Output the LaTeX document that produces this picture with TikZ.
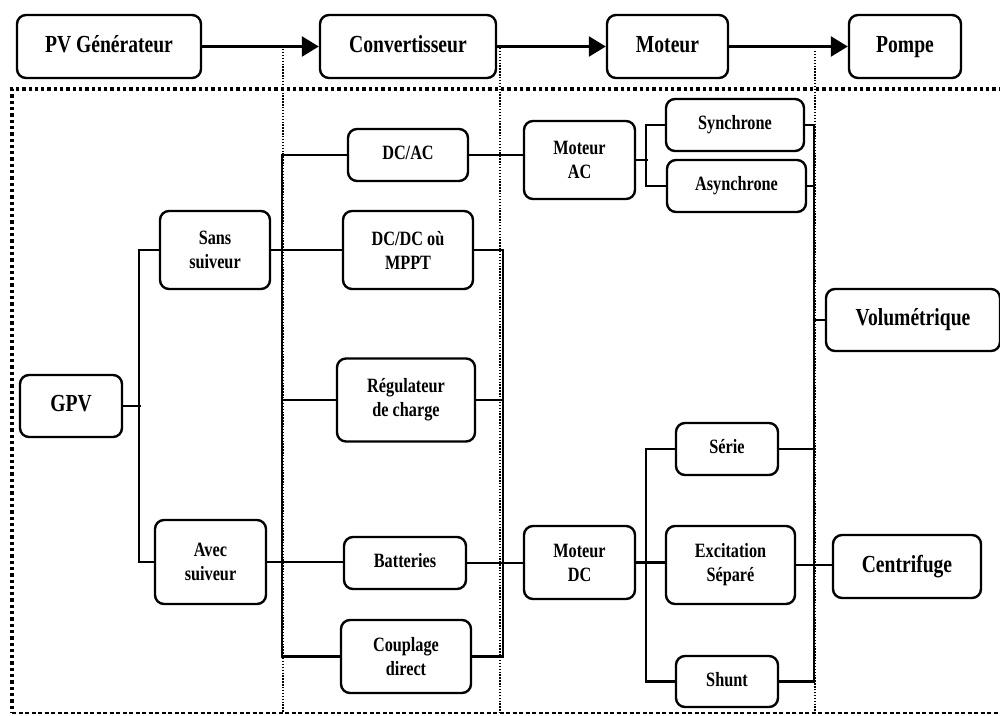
\documentclass[tikz,border=0pt]{standalone}
\usepackage{fontspec}
\setmainfont{Liberation Serif}[FakeStretch=0.8]
\usetikzlibrary{arrows.meta}
\begin{document}
\begin{tikzpicture}[x=1pt,y=-1pt,
  box/.style={draw, line width=2.4pt, rounded corners=9pt, align=center,
    font=\bfseries\fontsize{20.3}{24}\selectfont, inner sep=0pt},
  big/.style={box, font=\bfseries\fontsize{24.5}{28}\selectfont},
  one/.style={execute at begin node={\strut}},
  wire/.style={line width=2.4pt},
  flow/.style={line width=2.6pt, -{Triangle[length=17pt,width=20pt]}},
  sepline/.style={line width=1.4pt, dash pattern=on 1.4pt off 1.5pt},
]
\useasboundingbox (0,0) rectangle (1000,715);

% separators and frame
\draw[sepline] (283,49) -- (283,713);
\draw[sepline] (500,48) -- (500,713);
\draw[sepline] (815,51) -- (815,713);
\draw[line width=3.3pt, dash pattern=on 3.3pt off 3pt] (1002,89) -- (12,89) -- (12,713);
\draw[line width=2pt, dash pattern=on 4pt off 2.5pt] (12,713) -- (1002,713);

% top chain
\node[big, one, minimum width=184, minimum height=63] (pv) at (109,46.5) {PV Générateur};
\node[big, one, minimum width=176, minimum height=63] (conv) at (408,46.5) {Convertisseur};
\node[big, one, minimum width=121, minimum height=63] (mot) at (667.5,46.5) {Moteur};
\node[big, one, minimum width=112, minimum height=63] (pompe) at (905,46.5) {Pompe};
\draw[flow] (pv) -- (conv);
\draw[flow] (conv) -- (mot);
\draw[flow] (mot) -- (pompe);

% generator
\node[big, one, minimum width=102, minimum height=62] (gpv) at (71,406) {GPV};
\node[box, minimum width=110, minimum height=78] (sans) at (215,250) {Sans\\suiveur};
\node[box, minimum width=111, minimum height=84] (avec) at (210.5,562) {Avec\\suiveur};

% converters
\node[box, one, minimum width=120, minimum height=52] (dcac) at (408,155) {DC/AC};
\node[box, minimum width=130, minimum height=78] (dcdc) at (408,250) {DC/DC où\\MPPT};
\node[box, minimum width=138, minimum height=83] (reg) at (406,400) {Régulateur\\de charge};
\node[box, one, minimum width=122, minimum height=52] (bat) at (405,563) {Batteries};
\node[box, minimum width=130, minimum height=73] (coup) at (406,656.5) {Couplage\\direct};

% motors
\node[box, minimum width=111, minimum height=78] (mac) at (579.5,160) {Moteur\\AC};
\node[box, one, minimum width=138, minimum height=52] (sync) at (735,125) {Synchrone};
\node[box, one, minimum width=139, minimum height=52] (async) at (736.5,186) {Asynchrone};
\node[box, minimum width=111, minimum height=73] (mdc) at (579.5,562.5) {Moteur\\DC};
\node[box, one, minimum width=102, minimum height=52] (serie) at (727,449) {Série};
\node[box, minimum width=129, minimum height=78] (exc) at (730.5,565) {Excitation\\Séparé};
\node[box, one, minimum width=102, minimum height=51] (shunt) at (727,681.5) {Shunt};

% pumps
\node[big, one, minimum width=174, minimum height=62] (vol) at (913,320) {Volumétrique};
\node[big, one, minimum width=148, minimum height=63] (cent) at (907,566.5) {Centrifuge};

% wires: generator
\draw[wire] (gpv.east) -- ++(18,0);
\draw[wire] (sans.west) -- ++(-20,0) |- (avec.west);

% wires: converters
\draw[wire] (dcac.west) -- ++(-65,0) coordinate (c1) |- (coup.west);
\draw[wire] (sans.east) -- (sans.east -| dcdc.west);
\draw[wire] (reg.west) -- (reg.west -| c1);
\draw[wire] (avec.east) -- (avec.east -| bat.west);
\draw[wire] (dcdc.east) -- ++(29,0) coordinate (c2) |- (coup.east);
\draw[wire] (reg.east) -- (reg.east -| c2);
\draw[wire] (dcac.east) -- (dcac.east -| mac.west);
\draw[wire] (bat.east) -- (bat.east -| mdc.west);

% wires: AC motor
\draw[wire] (mac.east) -- ++(12,0);
\draw[wire] (sync.west) -- ++(-19,0) |- (async.west);

% wires: DC motor
\draw[wire] (serie.west) -- ++(-29,0) |- (shunt.west);
\draw[wire] (mdc.east) -- (mdc.east -| exc.west);

% wires: to pumps
\draw[wire] (sync.east) -- ++(9,0) coordinate (c4) |- (shunt.east);
\draw[wire] (async.east) -- (async.east -| c4);
\draw[wire] (serie.east) -- (serie.east -| c4);
\draw[wire] (exc.east) -- (exc.east -| cent.west);
\draw[wire] (vol.west) -- (vol.west -| c4);
\end{tikzpicture}
\end{document}
